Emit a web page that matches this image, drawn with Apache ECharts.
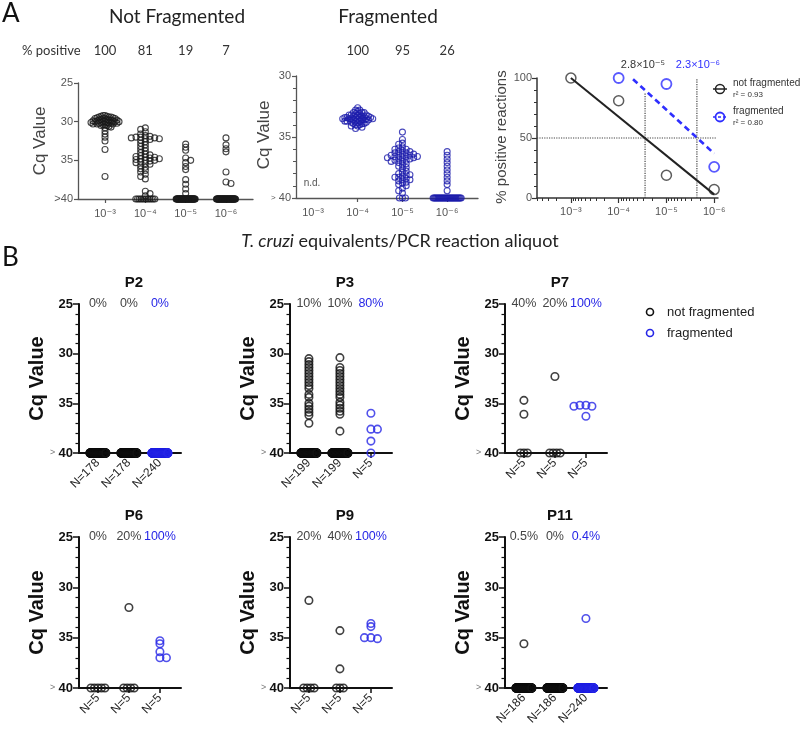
<!DOCTYPE html>
<html><head><meta charset="utf-8">
<script src="https://cdn.jsdelivr.net/npm/echarts@6/dist/echarts.min.js"></script>
<style>html,body{margin:0;padding:0;background:#fff}#c{width:800px;height:729px}</style>
</head><body><div id="c"></div>
<script>
// ---------------- DATA ----------------
// Panel A: doses (T. cruzi equivalents / PCR aliquot)
const doseLabels = ['10⁻³','10⁻⁴','10⁻⁵','10⁻⁶'];
const doses = [1e-3, 1e-4, 1e-5, 1e-6];
const nfPctA = [100, 81, 19, 7];
const fPctA = [null, 100, 95, 26];

// Not fragmented: Cq of positive reactions, and count of negatives (>40)
const nfE3 = [29.2,29.2,29.3,29.3,29.4,29.4,29.4,29.5,29.5,29.6,29.6,29.6,29.6,29.7,29.7,29.8,29.8,29.8,29.8,29.9,29.9,29.9,30.0,30.0,30.0,30.0,30.0,30.1,30.1,30.1,30.2,30.2,30.2,30.2,30.3,30.3,30.3,30.4,30.4,30.5,30.5,30.6,30.7,30.8,31.2,31.6,32.0,32.5,33.6,37.1];
const nfE3Neg = 0;
const nfE4 = [30.8,31.0,31.3,31.6,31.8,31.9,32.0,32.0,32.1,32.1,32.2,32.2,32.3,32.4,32.6,32.8,33.0,33.2,33.4,33.6,33.8,34.0,34.2,34.3,34.4,34.5,34.6,34.6,34.7,34.8,34.8,34.9,35.0,35.0,35.1,35.2,35.3,35.4,35.5,35.7,35.9,36.1,36.3,36.5,36.8,37.1,37.4,39.0,39.3,39.6];
const nfE4Neg = 12;
const nfE5 = [32.9,33.3,33.7,34.7,35.0,35.3,35.8,36.2,37.5,38.1,38.7,39.3];
const nfE5Neg = 50;
const nfE6 = [32.1,33.0,33.5,33.9,36.5,37.8,38.0];
const nfE6Neg = 50;

// Fragmented
const fE4 = [32.6,32.8,32.8,32.9,33.0,33.0,33.0,33.1,33.1,33.2,33.2,33.2,33.2,33.3,33.3,33.3,33.3,33.4,33.4,33.4,33.4,33.4,33.5,33.5,33.5,33.5,33.5,33.5,33.6,33.6,33.6,33.6,33.7,33.7,33.7,33.7,33.8,33.8,33.8,33.9,33.9,33.9,34.0,34.0,34.1,34.1,34.2,34.3];
const fE4Neg = 0;
const fE5 = [34.6,35.2,35.5,35.6,35.8,35.9,36.0,36.0,36.1,36.2,36.2,36.3,36.3,36.4,36.4,36.5,36.5,36.5,36.6,36.6,36.6,36.7,36.7,36.7,36.8,36.8,36.9,36.9,37.0,37.0,37.1,37.2,37.3,37.4,37.5,37.6,37.8,37.9,38.0,38.1,38.1,38.2,38.3,38.3,38.4,38.5,38.5,38.6,38.7,38.8,38.9,39.0,39.2,39.4,39.6];
const fE5Neg = 3;
const fE6 = [36.2,36.5,36.8,37.1,37.4,37.7,38.0,38.3,38.6,38.9,39.4];
const fE6Neg = 30;

// Probit-like fits (% positive vs dose) and 50% thresholds
const nfFit = [[1e-3, 100], [1e-6, 3]];
const fFit = [[5e-5, 99], [1e-6, 37]];
const ld50 = [2.8e-5, 2.3e-6];
const ld50Labels = ['2.8×10⁻⁵', '2.3×10⁻⁶'];
const r2 = ['0.93', '0.80'];

// Panel B: N per column, % positive labels, Cq of positive reactions
const p2N = [178,178,240], p2Pct = ['0%','0%','0%'], p2Pos = [[],[],[]];
const p3N = [199,199,5], p3Pct = ['10%','10%','80%'];
const p3Pos = [[30.5,30.8,31.1,31.4,31.7,32.0,32.3,32.6,32.9,33.2,33.5,34.1,34.4,35.0,35.3,35.6,35.9,36.2,37.0],
               [30.4,31.4,31.7,32.0,32.3,32.6,32.9,33.2,33.5,33.8,34.1,34.4,34.9,35.2,35.5,35.8,36.1,37.8],
               [36.0,37.6,37.6,38.8]];
const p7N = [5,5,5], p7Pct = ['40%','20%','100%'], p7Pos = [[34.7,36.1],[32.3],[35.2,35.2,35.3,35.3,36.3]];
const p6N = [5,5,5], p6Pct = ['0%','20%','100%'], p6Pos = [[],[32.0],[35.3,35.6,36.4,37.0,37.0]];
const p9N = [5,5,5], p9Pct = ['20%','40%','100%'], p9Pos = [[31.3],[34.3,38.1],[33.6,33.9,35.0,35.0,35.1]];
const p11N = [186,186,240], p11Pct = ['0.5%','0%','0.4%'], p11Pos = [[35.6],[],[33.1]];

// ---------------- LAYOUT / STYLE ----------------
const BLK = '#111', GRY = '#555', BLUE_A = '#1c1cab', BLUE = '#2626e6', BLUE3 = '#2f2fff';
const SANS = "'Liberation Sans', 'DejaVu Sans', Arial, sans-serif";
const CAL = "Lato, 'Open Sans', sans-serif";
const grids = [], xAxes = [], yAxes = [], series = [], graphics = [];

function addGrid(l, t, w, h) { grids.push({left: l, top: t, width: w, height: h}); return grids.length - 1; }

// GraphPad-like scatter-dot layout (horizontal offsets so that dots do not stack)
function swarm(vals, negCount, xc, pxX, pxY, o) {
  const sorted = vals.slice().sort((a, b) => a - b);
  const placed = [];
  sorted.forEach((v, i) => {
    const y = v * pxY;
    let off = 0;
    for (let k = 0; k < 600; k++) {
      const c0 = k === 0 ? 0 : (k % 2 ? 1 : -1) * Math.ceil(k / 2) * 0.5;
      const c = (i % 2 === 0) ? c0 : -c0;
      if (placed.every(p => Math.abs(p.y - y) >= o.hy || Math.abs(p.x - c) >= o.hx)) { off = c; break; }
    }
    placed.push({x: off, y: y, v: v});
  });
  let m = 0; placed.forEach(p => m = Math.max(m, Math.abs(p.x)));
  const s = m > o.maxHalf ? o.maxHalf / m : 1;
  const out = placed.map(p => [xc + p.x * s / pxX, p.v]);
  if (negCount > 0) {
    const sp = negCount > 1 ? Math.min(o.negSp, 2 * o.negHalf / (negCount - 1)) : 0;
    for (let i = 0; i < negCount; i++) out.push([xc + (i - (negCount - 1) / 2) * sp / pxX, 40]);
  }
  return out;
}

function dots(gi, xi, yi, data, color, size, bw) {
  series.push({type: 'scatter', xAxisIndex: xi, yAxisIndex: yi, data: data, symbol: 'circle', symbolSize: size,
    itemStyle: {color: 'rgba(0,0,0,0)', borderColor: color, borderWidth: bw}, silent: true, clip: false});
}

function txt(x, y, text, font, fill, align, rot, extra) {
  const el = {type: 'text', x: x, y: y, silent: true, style: Object.assign({text: text, font: font, fill: fill, align: align || 'center', verticalAlign: 'middle'}, extra || {})};
  if (rot) el.rotation = rot;
  graphics.push(el);
}

// ---------- Panel A, plot 1 : Not fragmented ----------
(function () {
  const L = 78, T = 83, W = 175, H = 116, xmin = 0.33, xmax = 4.67;
  const gi = addGrid(L, T, W, H);
  const xi = xAxes.length;
  xAxes.push({gridIndex: gi, type: 'value', min: xmin, max: xmax, position: 'bottom',
    axisLine: {onZero: false, lineStyle: {color: GRY, width: 1.3}}, splitLine: {show: false},
    axisTick: {customValues: [1,2,3,4], length: 4, lineStyle: {color: GRY, width: 1.2}},
    axisLabel: {customValues: [1,2,3,4], formatter: v => doseLabels[Math.round(v) - 1], color: GRY, fontSize: 11, fontFamily: SANS, margin: 9}});
  xAxes.push({gridIndex: gi, type: 'value', min: xmin, max: xmax, position: 'top',
    axisLine: {show: false}, axisTick: {show: false}, splitLine: {show: false},
    axisLabel: {customValues: [1,2,3,4], formatter: v => String(nfPctA[Math.round(v) - 1]), color: '#333', fontSize: 13, fontFamily: CAL, margin: 32, verticalAlign: 'middle'}});
  const yi = yAxes.length;
  yAxes.push({gridIndex: gi, type: 'value', inverse: true, min: 25, max: 40, interval: 5,
    axisLine: {show: true, onZero: false, lineStyle: {color: GRY, width: 1.3}}, splitLine: {show: false},
    axisTick: {show: true, length: 4, lineStyle: {color: GRY, width: 1.2}},
    axisLabel: {formatter: v => v === 40 ? '>40' : String(v), color: GRY, fontSize: 11, fontFamily: SANS, margin: 5}});
  const pxX = W / (xmax - xmin), pxY = H / 15;
  const o = {hy: 2.5, hx: 5, maxHalf: 14, negSp: 3, negHalf: 9.5};
  const groups = [[nfE3, nfE3Neg], [nfE4, nfE4Neg], [nfE5, nfE5Neg], [nfE6, nfE6Neg]];
  let all = [];
  groups.forEach((g, i) => { all = all.concat(swarm(g[0], g[1], i + 1, pxX, pxY, o)); });
  dots(gi, xi, yi, all, '#1a1a1a', 6, 1.1);
})();

// ---------- Panel A, plot 2 : Fragmented ----------
(function () {
  const L = 296, T = 76, W = 182, H = 122, xmin = 0.62, xmax = 4.69;
  const gi = addGrid(L, T, W, H);
  const xi = xAxes.length;
  xAxes.push({gridIndex: gi, type: 'value', min: xmin, max: xmax, position: 'bottom',
    axisLine: {onZero: false, lineStyle: {color: GRY, width: 1.3}}, splitLine: {show: false},
    axisTick: {customValues: [2,3,4], length: 4, lineStyle: {color: GRY, width: 1.2}},
    axisLabel: {customValues: [1,2,3,4], formatter: v => doseLabels[Math.round(v) - 1], color: GRY, fontSize: 11, fontFamily: SANS, margin: 9}});
  xAxes.push({gridIndex: gi, type: 'value', min: xmin, max: xmax, position: 'top',
    axisLine: {show: false}, axisTick: {show: false}, splitLine: {show: false},
    axisLabel: {customValues: [2,3,4], formatter: v => String(fPctA[Math.round(v) - 1]), color: '#333', fontSize: 13, fontFamily: CAL, margin: 25, verticalAlign: 'middle'}});
  const yi = yAxes.length;
  yAxes.push({gridIndex: gi, type: 'value', inverse: true, min: 30, max: 40, interval: 5,
    axisLine: {show: true, onZero: false, lineStyle: {color: GRY, width: 1.3}}, splitLine: {show: false},
    axisTick: {show: true, length: 4, lineStyle: {color: GRY, width: 1.2}},
    minorTick: {show: true, splitNumber: 5, length: 3, lineStyle: {color: GRY, width: 1}},
    axisLabel: {formatter: v => v === 40 ? '{s|>} 40' : String(v), color: GRY, fontSize: 11, fontFamily: SANS, margin: 5,
      rich: {s: {fontSize: 8, color: GRY}}}});
  const pxX = W / (xmax - xmin), pxY = H / 10;
  const o = {hy: 2.5, hx: 5, maxHalf: 15, negSp: 3, negHalf: 14};
  const groups = [[fE4, fE4Neg], [fE5, fE5Neg], [fE6, fE6Neg]];
  let all = [];
  groups.forEach((g, i) => { all = all.concat(swarm(g[0], g[1], i + 2, pxX, pxY, o)); });
  dots(gi, xi, yi, all, BLUE_A, 6, 1.1);
})();

// ---------- Panel A, plot 3 : % positive reactions ----------
(function () {
  const L = 537, T = 78, W = 181, H = 120, xmin = 2.29, xmax = 6.08;
  const gi = addGrid(L, T, W, H);
  const ex = d => -Math.log10(d);
  const xi = xAxes.length;
  xAxes.push({gridIndex: gi, type: 'value', min: xmin, max: xmax, position: 'bottom',
    axisLine: {onZero: false, lineStyle: {color: '#333', width: 1.5}}, splitLine: {show: false},
    axisTick: {customValues: [3,4,5,6], length: 5, lineStyle: {color: '#333', width: 1.2}},
    axisLabel: {customValues: [3,4,5,6], formatter: v => doseLabels[Math.round(v) - 3], color: GRY, fontSize: 11, fontFamily: SANS, margin: 8}});
  // log-scale minor ticks
  const minor = [];
  for (let k = 2; k <= 5; k++) for (let m = 2; m <= 9; m++) { const v = (k + 1) - Math.log10(m); if (v >= xmin && v <= xmax) minor.push(v); }
  xAxes.push({gridIndex: gi, type: 'value', min: xmin, max: xmax, position: 'bottom',
    axisLine: {show: false}, splitLine: {show: false}, axisLabel: {show: false},
    axisTick: {customValues: minor, length: 3, lineStyle: {color: '#333', width: 1}}});
  const yi = yAxes.length;
  yAxes.push({gridIndex: gi, type: 'value', min: 0, max: 100, interval: 50,
    axisLine: {show: true, onZero: false, lineStyle: {color: '#333', width: 1.5}}, splitLine: {show: false},
    axisTick: {show: true, length: 5, lineStyle: {color: '#333', width: 1.2}},
    minorTick: {show: true, splitNumber: 5, length: 3, lineStyle: {color: '#333', width: 1}},
    axisLabel: {color: GRY, fontSize: 11, fontFamily: SANS, margin: 5}});
  const dot = {type: 'dotted', color: '#444', width: 1.2};
  series.push({type: 'line', xAxisIndex: xi, yAxisIndex: yi, data: [[xmin, 50], [6.05, 50]], symbol: 'none', lineStyle: dot, silent: true});
  series.push({type: 'line', xAxisIndex: xi, yAxisIndex: yi, data: [[ex(ld50[0]), 0], [ex(ld50[0]), 88]], symbol: 'none', lineStyle: dot, silent: true});
  series.push({type: 'line', xAxisIndex: xi, yAxisIndex: yi, data: [[ex(ld50[1]), 0], [ex(ld50[1]), 100]], symbol: 'none', lineStyle: dot, silent: true});
  series.push({type: 'line', xAxisIndex: xi, yAxisIndex: yi, data: nfFit.map(p => [ex(p[0]), p[1]]), symbol: 'none', lineStyle: {color: '#222', width: 2}, silent: true});
  series.push({type: 'line', xAxisIndex: xi, yAxisIndex: yi, data: fFit.map(p => [ex(p[0]), p[1]]), symbol: 'none', lineStyle: {color: BLUE3, width: 2.6, type: [6, 4]}, silent: true});
  const nfPts = doses.map((d, i) => [ex(d), nfPctA[i]]);
  const fPts = doses.map((d, i) => [ex(d), fPctA[i]]).filter(p => p[1] !== null);
  dots(gi, xi, yi, nfPts, '#333', 10, 1.5);
  dots(gi, xi, yi, fPts, BLUE3, 10, 1.8);
})();

// ---------- Panel B ----------
function panelB(col, row, title, N, pct, pos) {
  const L = [79, 290, 505][col], T = [304, 537][row], W = 102, H = [149, 151][row];
  const xmin = 0.39, xmax = 3.68;
  const gi = addGrid(L, T, W, H);
  const xi = xAxes.length;
  xAxes.push({gridIndex: gi, type: 'value', min: xmin, max: xmax, position: 'bottom',
    axisLine: {onZero: false, lineStyle: {color: BLK, width: 2}}, splitLine: {show: false},
    axisTick: {customValues: [1,2,3], length: 5, lineStyle: {color: BLK, width: 1.5}},
    axisLabel: {customValues: [1,2,3], rotate: 45, formatter: v => 'N=' + N[Math.round(v) - 1], color: '#222', fontSize: 12, fontFamily: SANS, margin: 8}});
  xAxes.push({gridIndex: gi, type: 'value', min: xmin, max: xmax, position: 'top',
    axisLine: {show: false}, axisTick: {show: false}, splitLine: {show: false},
    axisLabel: {customValues: [1,2,3], formatter: v => { const i = Math.round(v) - 1; return (i === 2 ? '{b|' : '{g|') + pct[i] + '}'; },
      margin: 0, verticalAlign: 'middle', rich: {g: {color: '#444', fontSize: 12.5, fontFamily: SANS}, b: {color: BLUE, fontSize: 12.5, fontFamily: SANS}}}});
  const yi = yAxes.length;
  yAxes.push({gridIndex: gi, type: 'value', inverse: true, min: 25, max: 40, interval: 5,
    axisLine: {show: true, onZero: false, lineStyle: {color: BLK, width: 2}}, splitLine: {show: false},
    axisTick: {show: true, length: 6, lineStyle: {color: BLK, width: 1.5}},
    minorTick: {show: true, splitNumber: 5, length: 3.5, lineStyle: {color: BLK, width: 1.2}},
    axisLabel: {formatter: v => v === 40 ? '{s|>} {n|40}' : '{n|' + v + '}', margin: 6,
      rich: {s: {fontSize: 9, color: '#777', fontFamily: SANS}, n: {fontSize: 13, fontWeight: 'bold', color: BLK, fontFamily: SANS}}}});
  const pxX = W / (xmax - xmin), pxY = H / 15;
  const o = {hy: 2.5, hx: 6.5, maxHalf: 12, negSp: 3.5, negHalf: 8};
  let nf = [];
  [0, 1].forEach(i => { nf = nf.concat(swarm(pos[i], N[i] - pos[i].length, i + 1, pxX, pxY, o)); });
  const fr = swarm(pos[2], N[2] - pos[2].length, 3, pxX, pxY, o);
  dots(gi, xi, yi, nf, BLK, 7.5, 1.6);
  dots(gi, xi, yi, fr, BLUE, 7.5, 1.6);
  txt(L + 55, T - 21, title, 'bold 15px ' + SANS, BLK);
  txt(L - 42, T + H / 2, 'Cq Value', 'bold 20px ' + SANS, BLK, 'center', Math.PI / 2);
}
panelB(0, 0, 'P2', p2N, p2Pct, p2Pos);
panelB(1, 0, 'P3', p3N, p3Pct, p3Pos);
panelB(2, 0, 'P7', p7N, p7Pct, p7Pos);
panelB(0, 1, 'P6', p6N, p6Pct, p6Pos);
panelB(1, 1, 'P9', p9N, p9Pct, p9Pos);
panelB(2, 1, 'P11', p11N, p11Pct, p11Pos);

// ---------- Texts ----------
txt(2, 14, 'A', '26px ' + CAL, '#111', 'left');
txt(2, 258, 'B', '26px ' + CAL, '#111', 'left');
txt(177, 17, 'Not Fragmented', '19px ' + CAL, '#222');
txt(388, 17, 'Fragmented', '19px ' + CAL, '#222');
txt(22, 51, '% positive', '13px ' + CAL, '#333', 'left');
txt(312, 183, 'n.d.', '10px ' + SANS, GRY);
txt(40, 141, 'Cq Value', '17px ' + SANS, '#444', 'center', Math.PI / 2);
txt(264, 135, 'Cq Value', '17px ' + SANS, '#444', 'center', Math.PI / 2);
txt(502, 137, '% positive reactions', '15px ' + SANS, '#444', 'center', Math.PI / 2);
graphics.push({type: 'text', x: 400, y: 241, silent: true, style: {text: '{i|T. cruzi} equivalents/PCR reaction aliquot',
  font: '18px ' + CAL, fill: '#222', align: 'center', verticalAlign: 'middle',
  rich: {i: {fontStyle: 'italic', fontSize: 18, fontFamily: CAL, fill: '#222'}}}});
txt(643, 65, ld50Labels[0], '11px ' + SANS, '#333');
txt(698, 65, ld50Labels[1], '11px ' + SANS, BLUE3);
// plot-3 legend
graphics.push({type: 'line', silent: true, shape: {x1: 713, y1: 89, x2: 727, y2: 89}, style: {stroke: '#222', lineWidth: 1.5}});
graphics.push({type: 'circle', silent: true, shape: {cx: 720, cy: 89, r: 4.5}, style: {fill: 'none', stroke: '#222', lineWidth: 1.5}});
graphics.push({type: 'line', silent: true, shape: {x1: 713, y1: 117, x2: 727, y2: 117}, style: {stroke: BLUE3, lineWidth: 1.5, lineDash: [3, 2]}});
graphics.push({type: 'circle', silent: true, shape: {cx: 720, cy: 117, r: 4.5}, style: {fill: 'none', stroke: BLUE3, lineWidth: 1.8}});
txt(733, 83, 'not fragmented', '10px ' + SANS, '#333', 'left');
txt(733, 95, 'r² = ' + r2[0], '8px ' + SANS, '#333', 'left');
txt(733, 111, 'fragmented', '10px ' + SANS, '#333', 'left');
txt(733, 123, 'r² = ' + r2[1], '8px ' + SANS, '#333', 'left');
// panel B legend
graphics.push({type: 'circle', silent: true, shape: {cx: 650, cy: 312, r: 3.5}, style: {fill: 'none', stroke: BLK, lineWidth: 1.6}});
graphics.push({type: 'circle', silent: true, shape: {cx: 650, cy: 333, r: 3.5}, style: {fill: 'none', stroke: BLUE, lineWidth: 1.6}});
txt(667, 312, 'not fragmented', '13px ' + SANS, '#222', 'left');
txt(667, 333, 'fragmented', '13px ' + SANS, '#222', 'left');

const chart = echarts.init(document.getElementById('c'), null, {renderer: 'canvas'});
chart.setOption({animation: false, backgroundColor: '#fff', grid: grids, xAxis: xAxes, yAxis: yAxes, series: series, graphic: graphics});
</script></body></html>
